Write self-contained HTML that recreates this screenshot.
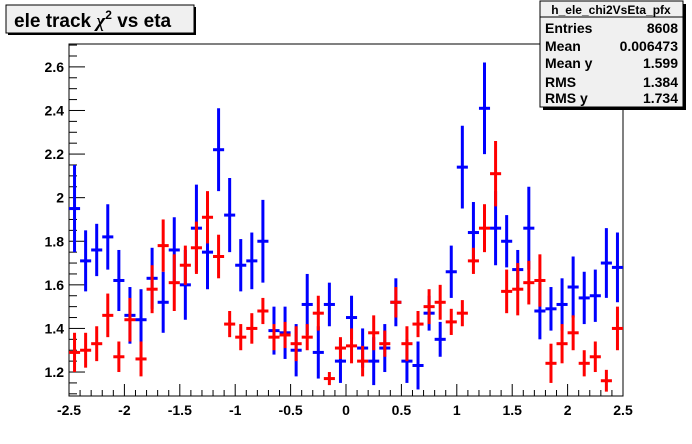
<!DOCTYPE html>
<html><head><meta charset="utf-8"><style>
body{margin:0;background:#fff;}
svg{display:block;font-family:"Liberation Sans",Arial,sans-serif;}
</style></head><body>
<svg id="c" width="692" height="444" viewBox="0 0 692 444">
<rect x="0" y="0" width="692" height="444" fill="#fff"/>
<g>
<rect x="8" y="7" width="188" height="28" fill="#000"/>
<rect x="6" y="5" width="188" height="28" fill="#f0f0f0" stroke="#000" stroke-width="1"/>
<text x="14" y="27" font-size="19" font-weight="bold">ele track <tspan font-family="Liberation Serif" font-style="italic">χ</tspan><tspan font-size="12" dy="-8">2</tspan><tspan dy="8"> vs eta</tspan></text>
</g>
<g id="frame"></g>
<g id="marks"></g>
<g>
<rect x="543" y="4" width="143" height="106" fill="#000"/>
<rect x="540" y="1" width="143" height="106" fill="#f0f0f0" stroke="#000" stroke-width="1"/>
<line x1="540" y1="17" x2="683" y2="17" stroke="#000"/>
<text x="611" y="14" font-size="12" font-weight="bold" text-anchor="middle">h_ele_chi2VsEta_pfx</text>
<g font-size="14" font-weight="bold">
<text x="545" y="33">Entries</text><text x="678" y="33" text-anchor="end">8608</text>
<text x="545" y="51">Mean</text><text x="678" y="51" text-anchor="end">0.006473</text>
<text x="545" y="68">Mean y</text><text x="678" y="68" text-anchor="end">1.599</text>
<text x="545" y="87">RMS</text><text x="678" y="87" text-anchor="end">1.384</text>
<text x="545" y="103">RMS y</text><text x="678" y="103" text-anchor="end">1.734</text>
</g>
</g>
</svg>
<script>
const binCenters=[-2.45,-2.35,-2.25,-2.15,-2.05,-1.95,-1.85,-1.75,-1.65,-1.55,-1.45,-1.35,-1.25,-1.15,-1.05,-0.95,-0.85,-0.75,-0.65,-0.55,-0.45,-0.35,-0.25,-0.15,-0.05,0.05,0.15,0.25,0.35,0.45,0.55,0.65,0.75,0.85,0.95,1.05,1.15,1.25,1.35,1.45,1.55,1.65,1.75,1.85,1.95,2.05,2.15,2.25,2.35,2.45];
const blueValues=[1.95,1.71,1.76,1.82,1.62,1.46,1.44,1.63,1.52,1.76,1.60,1.86,1.75,2.22,1.92,1.69,1.71,1.80,1.39,1.38,1.30,1.51,1.29,1.51,1.25,1.45,1.31,1.25,1.31,1.52,1.25,1.23,1.47,1.35,1.66,2.14,1.84,2.41,1.86,1.80,1.67,1.86,1.48,1.49,1.51,1.59,1.54,1.55,1.70,1.68];
const blueErrors=[0.2,0.14,0.12,0.15,0.14,0.13,0.14,0.14,0.14,0.15,0.16,0.2,0.17,0.19,0.17,0.12,0.13,0.19,0.11,0.12,0.12,0.14,0.12,0.1,0.1,0.1,0.09,0.11,0.11,0.11,0.1,0.11,0.08,0.08,0.12,0.19,0.14,0.21,0.17,0.12,0.09,0.19,0.13,0.1,0.12,0.14,0.12,0.12,0.16,0.16];
const redValues=[1.29,1.30,1.33,1.46,1.27,1.44,1.26,1.58,1.78,1.61,1.69,1.77,1.91,1.73,1.42,1.36,1.40,1.48,1.36,1.37,1.33,1.36,1.47,1.17,1.31,1.32,1.25,1.38,1.33,1.52,1.33,1.42,1.50,1.52,1.43,1.47,1.71,1.86,2.11,1.57,1.58,1.61,1.62,1.24,1.33,1.38,1.24,1.27,1.16,1.40];
const redErrors=[0.09,0.08,0.08,0.1,0.07,0.1,0.08,0.11,0.12,0.13,0.09,0.12,0.12,0.1,0.06,0.06,0.07,0.06,0.06,0.06,0.08,0.06,0.08,0.03,0.05,0.08,0.07,0.08,0.06,0.07,0.08,0.06,0.08,0.08,0.06,0.06,0.06,0.11,0.15,0.1,0.12,0.1,0.12,0.09,0.09,0.08,0.06,0.07,0.05,0.1];
const xTicks=[-2.5,-2,-1.5,-1,-0.5,0,0.5,1,1.5,2,2.5];
const xTickLabels=["-2.5","-2","-1.5","-1","-0.5","0","0.5","1","1.5","2","2.5"];
const yTicks=[1.2,1.4,1.6,1.8,2,2.2,2.4,2.6];
const yTickLabels=["1.2","1.4","1.6","1.8","2","2.2","2.4","2.6"];
const X0=69,X1=623,Y0=396,Y1=44,xmin=-2.5,xmax=2.5,ymin=1.09,ymax=2.705;
const sx=v=>X0+(v-xmin)/(xmax-xmin)*(X1-X0);
const sy=v=>Y0-(v-ymin)/(ymax-ymin)*(Y0-Y1);
const NS="http://www.w3.org/2000/svg";
function mk(tag,attrs,parent){const e=document.createElementNS(NS,tag);for(const k in attrs)e.setAttribute(k,attrs[k]);parent.appendChild(e);return e;}
const frame=document.getElementById('frame');
let fr=mk('rect',{x:X0,y:Y1,width:X1-X0,height:Y0-Y1,fill:'none',stroke:'#000','stroke-width':1},frame);


for(let v=-2.5;v<=2.5001;v+=0.1){const x=sx(v);const major=Math.abs(v*2-Math.round(v*2))<1e-6;
 let t=mk('line',{x1:x,x2:x,y1:Y0,y2:Y0-(major?12:6),stroke:'#000'},frame);
 
 }
for(let v=1.1;v<=2.7001;v+=0.05){const y=sy(v);const major=Math.abs(v*5-Math.round(v*5))<1e-6;
 let t=mk('line',{x1:X0,x2:X0+(major?16:8),y1:y,y2:y,stroke:'#000'},frame);
 
 }
xTicks.forEach((v,i)=>{let t=mk('text',{x:sx(v),y:415,'font-size':14,'font-weight':'bold','text-anchor':'middle'},frame);t.textContent=xTickLabels[i];
 
 });
yTicks.forEach((v,i)=>{let t=mk('text',{x:64,y:sy(v)+5,'font-size':14,'font-weight':'bold','text-anchor':'end'},frame);t.textContent=yTickLabels[i];
 
 });
const marks=document.getElementById('marks');
function series(vals,errs,color,name){const g=mk('g',{},marks);
 
 
 const hw=(X1-X0)/50/2;
 binCenters.forEach((c,i)=>{const x=sx(c),y=sy(vals[i]);
  const p=mk('g',{},g);
  
  
  mk('line',{x1:x,x2:x,y1:sy(vals[i]+errs[i]),y2:sy(vals[i]-errs[i]),stroke:color,'stroke-width':3},p);
  mk('line',{x1:x-hw,x2:x+hw,y1:y,y2:y,stroke:color,'stroke-width':3},p);});}
series(blueValues,blueErrors,'#0000ff','blue');
series(redValues,redErrors,'#ff0000','red');
</script>
</body></html>
